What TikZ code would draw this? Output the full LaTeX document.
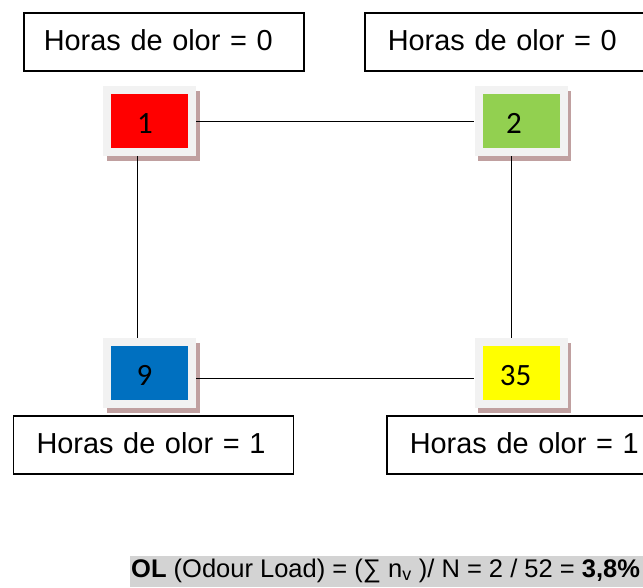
\documentclass[tikz,border=0pt]{standalone}
\usepackage{fontspec}
\setmainfont{Liberation Sans}
\newfontfamily\numfont{Carlito}
\usetikzlibrary{shadows}
\definecolor{framec}{RGB}{242,242,242}
\definecolor{shadowc}{RGB}{192,160,160}
\definecolor{cred}{RGB}{255,0,0}
\definecolor{cgreen}{RGB}{146,208,80}
\definecolor{cblue}{RGB}{0,112,192}
\definecolor{cyellow}{RGB}{255,255,0}
\definecolor{bandc}{RGB}{211,211,211}
\begin{document}
\begin{tikzpicture}[x=1pt,y=-1pt,
  lblbox/.style={draw=black, line width=1.6pt, anchor=north west, minimum height=58pt,
    text width=#1, align=left, text height=21pt, text depth=3pt,
    font=\fontsize{28.9}{34}\selectfont},
  cell/.style={minimum width=93pt, minimum height=70pt, inner sep=0pt, fill=framec,
    text height=25.5pt, text depth=0pt,
    drop shadow={shadow xshift=3.5pt, shadow yshift=-4.5pt, fill=shadowc, opacity=1},
    font=\numfont\fontsize{31}{36}\selectfont,
    path picture={\fill[#1] ([shift={(8pt,8pt)}]path picture bounding box.south west)
      rectangle ([shift={(-8pt,-8pt)}]path picture bounding box.north east);}},
  conn/.style={draw=black, line width=0.9pt}]
\useasboundingbox (0,0) rectangle (643,587);

\node[lblbox=240pt, inner xsep=20pt] (h1) at (23,12) {Horas de olor = 0};
\node[lblbox=260pt, inner xsep=23pt] (h2) at (364,12) {Horas de olor = 0};
\node[lblbox=234pt, inner xsep=23pt] (h9) at (12.7,415) {Horas de olor = 1};
\node[lblbox=260pt, inner xsep=23pt] (h35) at (386,415) {Horas de olor = 1};

\node[cell=cred] (n1) at (149.5,121) {1\kern9pt};
\node[cell=cgreen] (n2) at (521,121) {2\kern14pt};
\node[cell=cblue] (n9) at (149.5,373) {9\kern10pt};
\node[cell=cyellow] (n35) at (521,373) {35\kern11pt};

\draw[conn] (n1.east) -- (n2.west);
\draw[conn] ([yshift=-5pt]n9.east) -- ([yshift=-5pt]n35.west);
\draw[conn] ([xshift=-11.8pt]n1.south) -- ([xshift=-11.8pt]n9.north);
\draw[conn] ([xshift=-9.3pt]n2.south) -- ([xshift=-9.3pt]n35.north);

\fill[bandc] (130,556) rectangle (643,587);
\node[anchor=base west, inner sep=0pt, font=\fontsize{25.5}{30}\selectfont] (ol) at (131,577)
  {\textbf{OL} (Odour Load) = (∑ n\textsubscript{v} )/ N = 2 / 52 = \textbf{3,8\%}};
\end{tikzpicture}
\end{document}
